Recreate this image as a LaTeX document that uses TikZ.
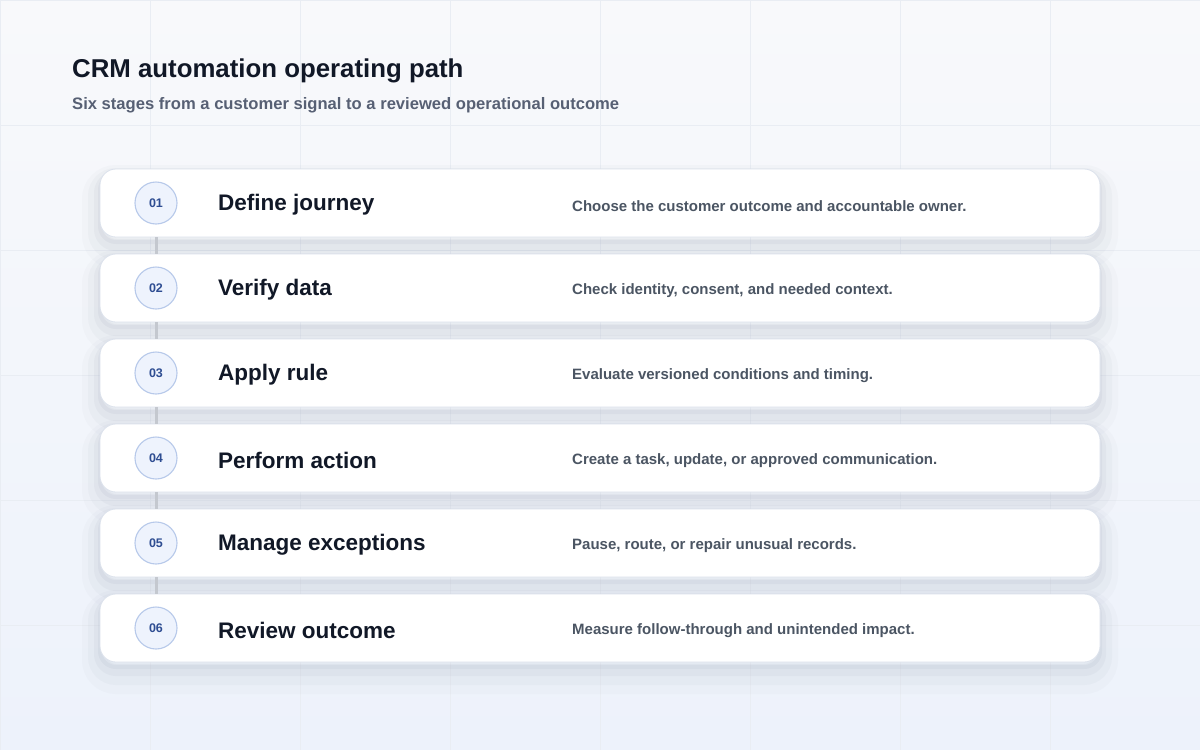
\documentclass[tikz,border=0pt]{standalone}
\usepackage{fontspec}
\setmainfont{Liberation Sans}
\definecolor{bgtop}{HTML}{F8F9FB}
\definecolor{bgbot}{HTML}{EDF2FB}
\definecolor{gridc}{HTML}{E9EDF3}
\definecolor{ink}{HTML}{111827}
\definecolor{subink}{HTML}{576074}
\definecolor{descink}{HTML}{4B5563}
\definecolor{cardline}{HTML}{DCE2EC}
\definecolor{shadowc}{HTML}{76809A}
\definecolor{badgefill}{HTML}{EEF3FD}
\definecolor{badgeline}{HTML}{B7C9EA}
\definecolor{badgeink}{HTML}{2E4D92}
\definecolor{linkc}{HTML}{C4C8CF}
\tikzset{
  card/.style={rectangle,rounded corners=16pt,minimum width=1000pt,minimum height=68pt,
    fill=white,draw=cardline,line width=0.8pt,
    preaction={draw=shadowc,fill=none,line width=36pt,opacity=0.03,transform canvas={yshift=-14pt}},
    preaction={draw=shadowc,fill=none,line width=24pt,opacity=0.045,transform canvas={yshift=-11pt}},
    preaction={draw=shadowc,fill=none,line width=12pt,opacity=0.06,transform canvas={yshift=-8pt}},
    preaction={draw=shadowc,fill=none,line width=4pt,opacity=0.07,transform canvas={yshift=-5pt}}},
  badge/.style={circle,minimum size=42pt,inner sep=0pt,fill=badgefill,draw=badgeline,line width=1.1pt,
    text=badgeink,font=\fontsize{12.5}{14}\selectfont\bfseries},
  stagetitle/.style={anchor=west,inner sep=0pt,text=ink,font=\fontsize{22.5}{26}\selectfont\bfseries},
  stagedesc/.style={anchor=west,inner sep=0pt,text=descink,font=\fontsize{15}{18}\selectfont\bfseries},
  link/.style={draw=linkc,line width=3pt}
}
\begin{document}
\begin{tikzpicture}[x=1pt,y=-1pt]
  \useasboundingbox (0,0) rectangle (1200,750);
  \shade[top color=bgtop,bottom color=bgbot] (0,0) rectangle (1200,750);
  \draw[gridc,line width=0.7pt,xstep=150pt,ystep=125pt] (0,0) grid (1200,750);
  % heading
  \node[anchor=base west,inner sep=0pt,text=ink,font=\fontsize{25.8}{30}\selectfont\bfseries]
    (title) at (72,77) {CRM automation operating path};
  \node[anchor=base west,inner sep=0pt,text=subink,font=\fontsize{16.6}{19}\selectfont\bfseries]
    (subtitle) at (72,109.5) {Six stages from a customer signal to a reviewed operational outcome};
  % stage cards
  \node[card] (c1) at (600,203) {};
  \node[card] (c2) at (600,288) {};
  \node[card] (c3) at (600,373) {};
  \node[card] (c4) at (600,458) {};
  \node[card] (c5) at (600,543) {};
  \node[card] (c6) at (600,628) {};
  % badges
  \begin{scope}[every node/.style={badge}]
  \node (b1) at (156,203) {01};
  \node (b2) at (156,288) {02};
  \node (b3) at (156,373) {03};
  \node (b4) at (156,458) {04};
  \node (b5) at (156,543) {05};
  \node (b6) at (156,628) {06};
  \end{scope}
  % links between cards
  \begin{scope}[every path/.style={link}]
  \path (c1.south -| b1) -- (c2.north -| b2);
  \path (c2.south -| b2) -- (c3.north -| b3);
  \path (c3.south -| b3) -- (c4.north -| b4);
  \path (c4.south -| b4) -- (c5.north -| b5);
  \path (c5.south -| b5) -- (c6.north -| b6);
  \end{scope}
  % stage names
  \node[stagetitle] (t1) at (218,205) {Define journey};
  \node[stagetitle] (t2) at (218,290) {Verify data};
  \node[stagetitle] (t3) at (218,375) {Apply rule};
  \node[stagetitle] (t4) at (218,460) {Perform action};
  \node[stagetitle] (t5) at (218,545) {Manage exceptions};
  \node[stagetitle] (t6) at (218,630) {Review outcome};
  % stage notes
  \node[stagedesc] (d1) at (572,206) {Choose the customer outcome and accountable owner.};
  \node[stagedesc] (d2) at (572,291) {Check identity, consent, and needed context.};
  \node[stagedesc] (d3) at (572,376) {Evaluate versioned conditions and timing.};
  \node[stagedesc] (d4) at (572,461) {Create a task, update, or approved communication.};
  \node[stagedesc] (d5) at (572,546) {Pause, route, or repair unusual records.};
  \node[stagedesc] (d6) at (572,631) {Measure follow-through and unintended impact.};
\end{tikzpicture}
\end{document}
